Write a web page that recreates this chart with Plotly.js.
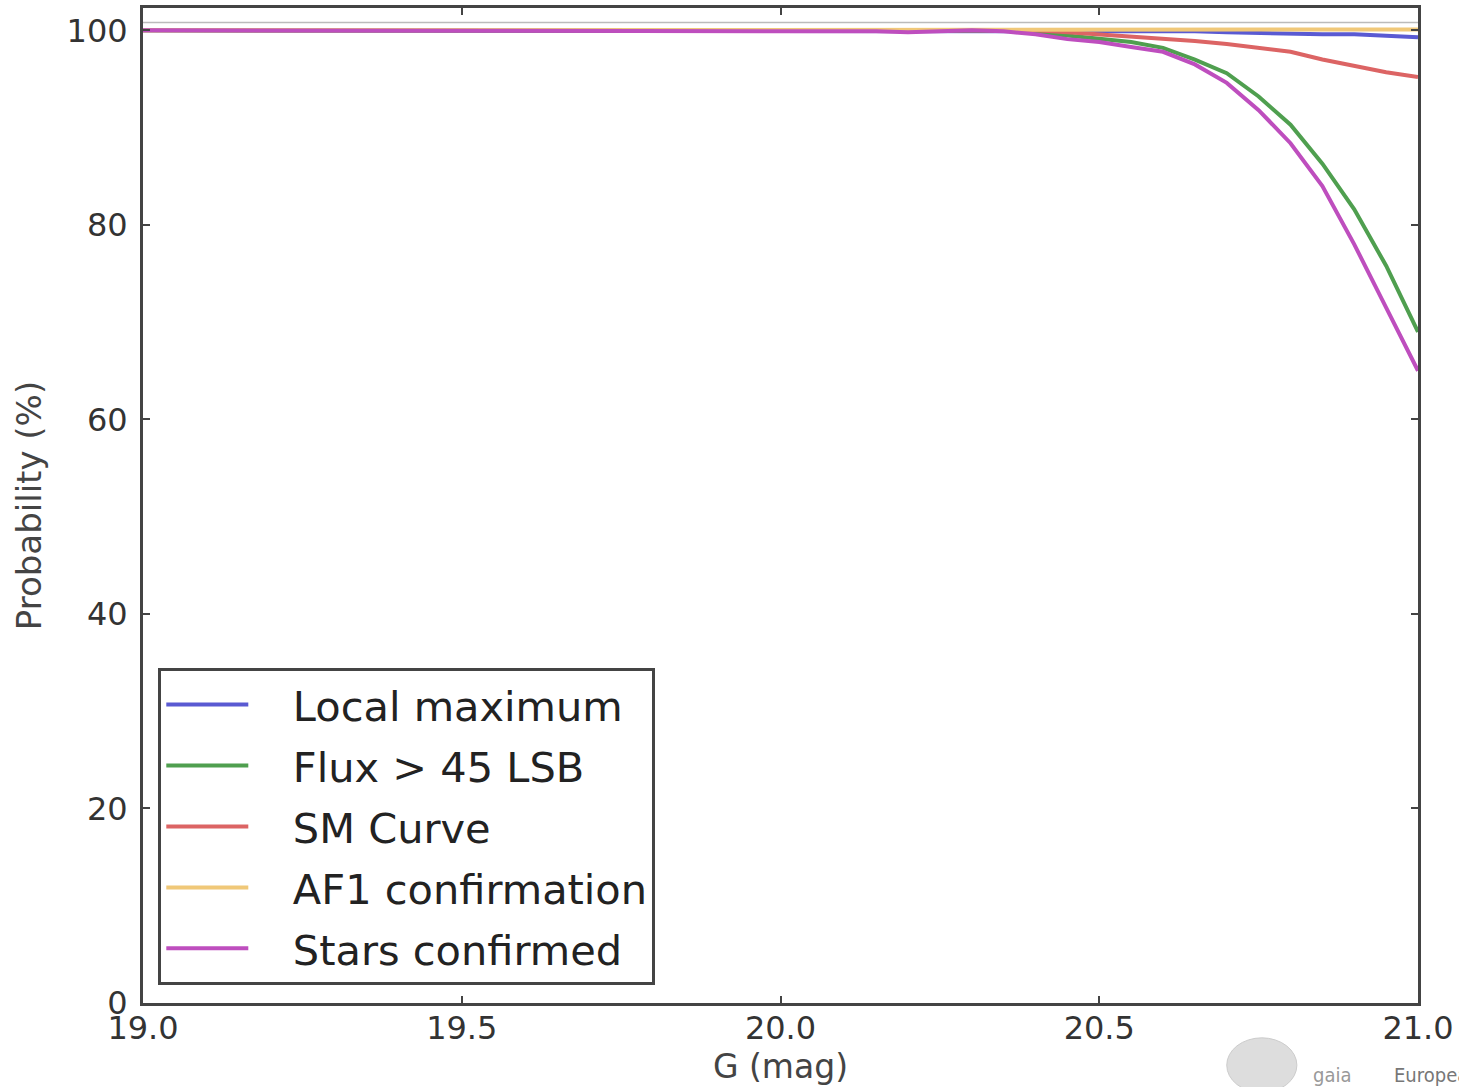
<!DOCTYPE html>
<html>
<head>
<meta charset="utf-8">
<script src="https://cdn.plot.ly/plotly-3.0.1.min.js"></script>
<style>html,body{margin:0;padding:0;background:#fff;}#chart{width:1459px;height:1087px;}</style>
</head>
<body>
<div id="chart"></div>
<script>
// G magnitude grid
const G = [19.0,19.05,19.1,19.15,19.2,19.25,19.3,19.35,19.4,19.45,19.5,19.55,19.6,19.65,19.7,19.75,19.8,19.85,19.9,19.95,
           20.0,20.05,20.1,20.15,20.2,20.25,20.3,20.35,20.4,20.45,20.5,20.55,20.6,20.65,20.7,20.75,20.8,20.85,20.9,20.95,21.0];

const localMaximum = [100,100,100,100,100,100,100,100,100,100,100,100,100,100,100,100,100,100,100,100,
                      100,100,100,100,100,100,100,100,100,100,100,100,100,99.9,99.8,99.7,99.7,99.6,99.6,99.5,99.3];
const flux45 = [100,100,100,100,100,100,100,100,100,100,100,100,100,100,100,100,100,100,100,100,
                100,100,100,99.95,99.9,99.95,100,99.95,99.8,99.5,99.2,98.8,98.2,97.0,95.6,93.2,90.3,86.3,81.6,75.8,69.0];
const smCurve = [100,100,100,100,100,100,100,100,100,100,100,100,100,100,100,100,100,100,100,100,
                 100,100,100,100,99.95,100,100,100,100,99.8,99.6,99.4,99.2,98.9,98.6,98.2,97.8,97.0,96.3,95.7,95.2];
const af1Confirmation = [100,100,100,100,100,100,100,100,100,100,100,100,100,100,100,100,100,100,100,100,
                         100,100,100,100,100,100,100,100,100,100,100,100,100,100,100,100,100.05,100.1,100.1,100.1,100.1];
const starsConfirmed = [100,100,100,100,100,100,100,100,100,100,100,100,100,100,100,100,100,100,100,100,
                        100,100,100,99.9,99.8,99.9,100,99.9,99.6,99.1,98.8,98.3,97.8,96.5,94.6,91.8,88.4,84.0,78.0,71.5,65.0];

const names = ["Local maximum","Flux > 45 LSB","SM Curve","AF1 confirmation","Stars confirmed"];
const series = [localMaximum, flux45, smCurve, af1Confirmation, starsConfirmed];
const colors = ["#5a5ad2","#4f9f4f","#dc6464","#f0c878","#be4ebe"];

const xTicks = [19.0,19.5,20.0,20.5,21.0];
const xTickText = ["19.0","19.5","20.0","20.5","21.0"];
const yTicks = [0,20,40,60,80,100];

const pad = "\u00a0\u00a0\u00a0";
const traces = series.map((s,i)=>({
  x: G, y: s, type: "scatter", mode: "lines", name: pad + names[i],
  legendgroup: "g" + i,
  line: {color: colors[i], width: 4}
}));

const font = "DejaVu Sans, sans-serif";
const layout = {
  width: 1459, height: 1087,
  margin: {l: 143, r: 41, t: 8, b: 84},
  paper_bgcolor: "#fff", plot_bgcolor: "#fff",
  showlegend: true,
  font: {family: font, color: "#333"},
  xaxis: {
    range: [19, 21], tickvals: xTicks, ticktext: xTickText,
    showgrid: false, zeroline: false, showline: true, linewidth: 3, linecolor: "#444",
    mirror: "ticks", ticks: "inside", ticklen: 7, tickwidth: 2, tickcolor: "#444",
    ticklabelstandoff: -5,
    tickfont: {size: 32, family: font, color: "#333"},
    title: {text: "G (mag)", font: {size: 33, family: font, color: "#444"}, standoff: 8}
  },
  yaxis: {
    range: [0, 102.3], tickvals: yTicks,
    showgrid: false, zeroline: false, showline: true, linewidth: 3, linecolor: "#444",
    mirror: "ticks", ticks: "inside", ticklen: 7, tickwidth: 2, tickcolor: "#444",
    ticklabelstandoff: 6,
    tickfont: {size: 32, family: font, color: "#333"},
    title: {text: "Probability (%)", font: {size: 34, family: font, color: "#444"}, standoff: 15}
  },
  legend: {
    x: 0.012, y: 0.018, xanchor: "left", yanchor: "bottom",
    bgcolor: "#fff", bordercolor: "#444", borderwidth: 3,
    font: {size: 41.5, family: font, color: "#222"},
    itemwidth: 82, tracegroupgap: 4
  },
  shapes: [
    {type: "line", xref: "paper", x0: 0, x1: 1, yref: "y", y0: 100.8, y1: 100.8, line: {color: "#bbb", width: 1.5}},
    {type: "circle", xref: "paper", yref: "paper", x0: 0.85, x1: 0.905, y0: -0.09, y1: -0.035, fillcolor: "#ddd", line: {color: "#ccc", width: 1}}
  ],
  annotations: [
    {text: "gaia", xref: "paper", yref: "paper", x: 0.916, y: -0.072, xanchor: "left", yanchor: "middle", showarrow: false, font: {size: 20, family: "DejaVu Sans Condensed, sans-serif", color: "#999"}},
    {text: "European Space Agency", xref: "paper", yref: "paper", x: 0.9795, y: -0.072, xanchor: "left", yanchor: "middle", showarrow: false, font: {size: 20, family: "DejaVu Sans Condensed, sans-serif", color: "#777"}}
  ]
};

Plotly.newPlot("chart", traces, layout, {displayModeBar: false, staticPlot: true});
</script>
</body>
</html>
